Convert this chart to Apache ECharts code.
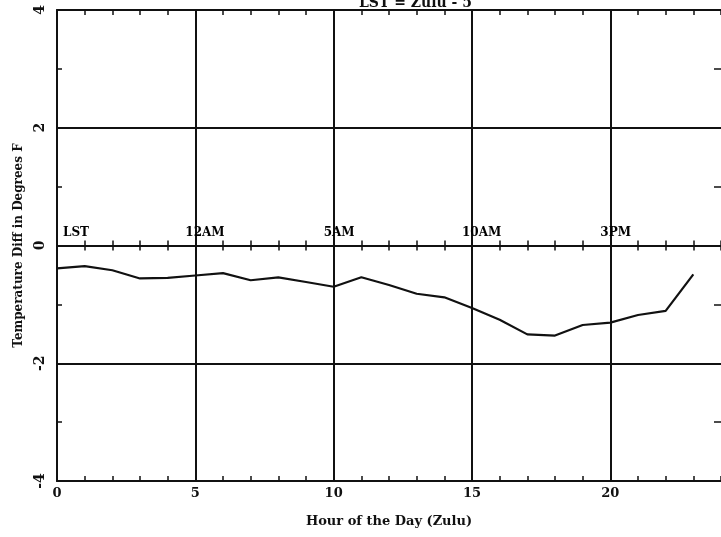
<!DOCTYPE html>
<html>
<head>
<meta charset="utf-8">
<script src="https://cdn.jsdelivr.net/npm/echarts@6/dist/echarts.min.js"></script>
<style>html,body{margin:0;padding:0;background:#fff}#c{width:721px;height:537px}</style>
</head>
<body>
<div id="c"></div>
<script>
var hours = [0,1,2,3,4,5,6,7,8,9,10,11,12,13,14,15,16,17,18,19,20,21,22,23];
var tempDiff = [-0.39,-0.35,-0.42,-0.56,-0.55,-0.51,-0.47,-0.59,-0.54,-0.62,-0.70,-0.54,-0.67,-0.82,-0.88,-1.06,-1.26,-1.51,-1.53,-1.35,-1.31,-1.18,-1.11,-0.49];
var lstHours = [0,5,10,15,20];
var lstLabels = ['LST','12AM','5AM','10AM','3PM'];
var titleText = 'LST = Zulu - 5';
var xName = 'Hour of the Day (Zulu)';
var yName = 'Temperature Diff in Degrees F';

var FONT = 'DejaVu Serif';
var BLK = '#111111';
var chart = echarts.init(document.getElementById('c'), null, {renderer:'canvas'});

function baseX(extra){
  var o = {type:'value', min:0, max:24, interval:1, position:'bottom',
    axisLine:{show:false}, axisTick:{show:false}, axisLabel:{show:false}, splitLine:{show:false}};
  for (var k in extra) o[k] = extra[k];
  return o;
}

var option = {
  backgroundColor:'#fff',
  animation:false,
  title:{text:titleText, left:354, top:-9,
    textStyle:{fontFamily:FONT, fontWeight:'bold', fontSize:14, color:BLK}},
  grid:{left:57, right:-2, top:10, bottom:56},
  xAxis:[
    baseX({interval:5, axisLine:{show:true, onZero:false, lineStyle:{color:BLK,width:2}},
      axisLabel:{show:true, margin:6, showMaxLabel:false, fontFamily:FONT, fontWeight:'bold', fontSize:13, color:BLK,
        formatter:function(v){return v>=24?'':String(v);}},
      splitLine:{show:true, showMaxLine:false, lineStyle:{color:BLK,width:2}},
      name:xName, nameLocation:'middle', nameGap:34,
      nameTextStyle:{fontFamily:FONT, fontWeight:'bold', fontSize:13, color:BLK}}),
    baseX({axisLine:{show:false, onZero:false}, axisTick:{show:true, inside:true, length:5, lineStyle:{color:BLK,width:1.5}}}),
    baseX({position:'top', axisLine:{show:true, onZero:false, lineStyle:{color:BLK,width:2}},
      axisTick:{show:true, inside:true, length:5, lineStyle:{color:BLK,width:1.5}}}),
    baseX({axisLine:{show:true, onZero:true, onZeroAxisIndex:0, lineStyle:{color:BLK,width:2}},
      axisTick:{show:true, inside:true, length:5, lineStyle:{color:BLK,width:1.5}}}),
    baseX({axisLine:{show:false, onZero:true, onZeroAxisIndex:0},
      axisTick:{show:true, inside:false, length:5, lineStyle:{color:BLK,width:1.5}}})
  ],
  yAxis:[
    {type:'value', min:-4, max:4, interval:2, position:'left',
      axisLine:{show:true, onZero:false, lineStyle:{color:BLK,width:2}},
      axisTick:{show:false, inside:true},
      minorTick:{show:true, splitNumber:2, length:5, lineStyle:{color:BLK,width:1.5}},
      axisLabel:{show:true, rotate:90, margin:10, fontFamily:FONT, fontWeight:'bold', fontSize:14, color:BLK},
      splitLine:{show:true, showMinLine:false, showMaxLine:false, lineStyle:{color:BLK,width:2}},
      name:yName, nameLocation:'middle', nameGap:31,
      nameTextStyle:{fontFamily:FONT, fontWeight:'bold', fontSize:12, color:BLK}},
    {type:'value', min:-4, max:4, interval:2, position:'right',
      axisLine:{show:true, onZero:false, lineStyle:{color:'#999',width:1}},
      axisTick:{show:false, inside:true},
      minorTick:{show:true, splitNumber:2, length:7, lineStyle:{color:BLK,width:1.5}},
      axisLabel:{show:false}, splitLine:{show:false}}
  ],
  series:[
    {type:'line', xAxisIndex:0, yAxisIndex:0, showSymbol:false, symbol:'none',
      lineStyle:{color:BLK, width:2.2},
      data: hours.map(function(h,i){return [h, tempDiff[i]];})},
    {type:'scatter', xAxisIndex:0, yAxisIndex:0, symbolSize:0, silent:true,
      itemStyle:{opacity:1, color:BLK},
      data: lstHours.map(function(h,i){
        return {value:[h,0], label:{offset:[i===0?6:-10, 0]}};
      }),
      label:{show:true, position:'top', align:'left', distance:7, opacity:1,
        fontFamily:FONT, fontWeight:'bold', fontSize:12, color:'#000',
        formatter:function(p){return lstLabels[p.dataIndex];}}}
  ]
};
chart.setOption(option);
</script>
</body>
</html>
